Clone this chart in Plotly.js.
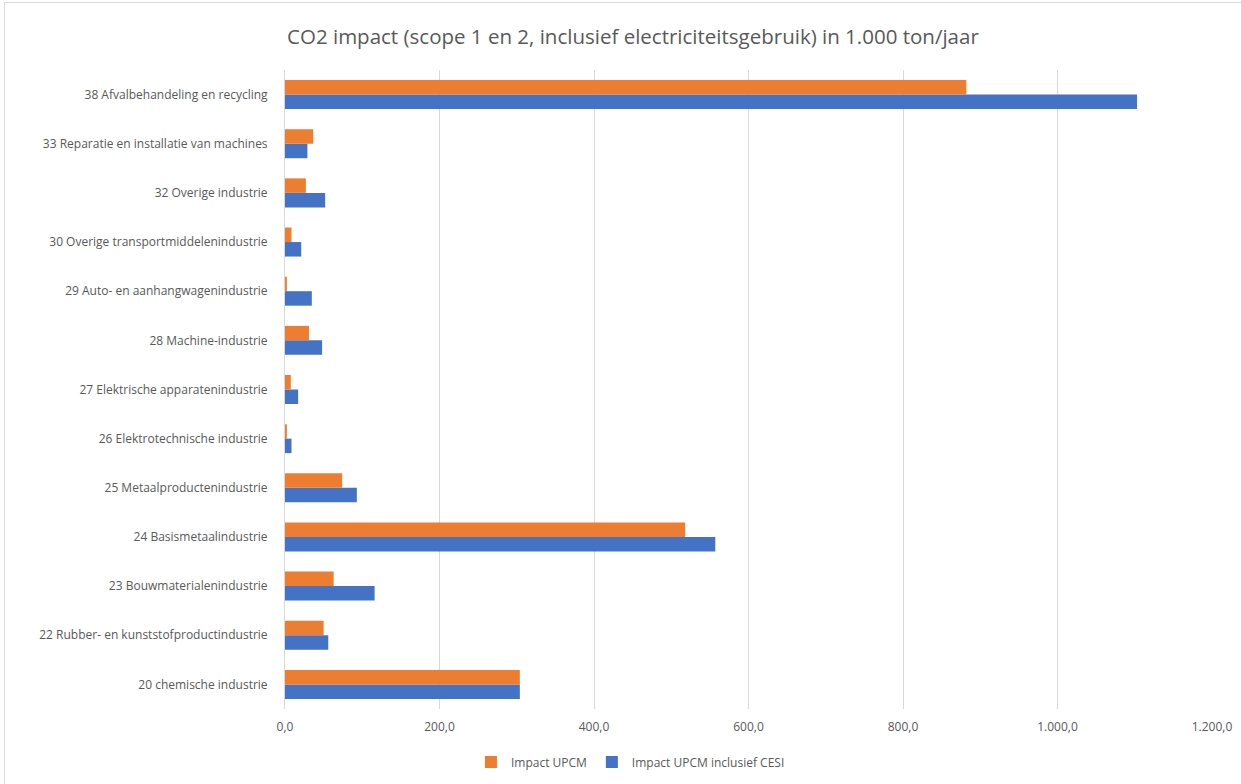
<!DOCTYPE html>
<html>
<head>
<meta charset="utf-8">
<script src="https://cdn.plot.ly/plotly-3.0.1.min.js"></script>
<style>
  html, body { margin: 0; padding: 0; background: #fff; overflow: hidden; }
  #chart { position: absolute; left: 0; top: 0; width: 1241px; height: 784px; }
  #frame { position: absolute; left: 4px; top: 2px; width: 1245px; height: 790px; border: 1px solid #d9d9d9; pointer-events: none; }
</style>
</head>
<body>
<div id="chart"></div>
<div id="frame"></div>
<script>
const categories = [
  "20 chemische industrie",
  "22 Rubber- en kunststofproductindustrie",
  "23 Bouwmaterialenindustrie",
  "24 Basismetaalindustrie",
  "25 Metaalproductenindustrie",
  "26 Elektrotechnische industrie",
  "27 Elektrische apparatenindustrie",
  "28 Machine-industrie",
  "29 Auto- en aanhangwagenindustrie",
  "30 Overige transportmiddelenindustrie",
  "32 Overige industrie",
  "33 Reparatie en installatie van machines",
  "38 Afvalbehandeling en recycling"
];
const impactUPCM = [304, 50, 63, 518, 74, 2.4, 7.5, 31, 2.4, 8.4, 27, 36.5, 882];
const impactUPCMCESI = [304, 56, 116, 557, 93, 8.4, 17, 48, 34.7, 21, 52, 29, 1103];
const seriesNames = ["Impact UPCM", "Impact UPCM inclusief CESI"];
const tickValues = [0, 200, 400, 600, 800, 1000, 1200];

const font = "Open Sans, Noto Sans, sans-serif";

const traces = [
  {
    type: "bar", orientation: "h",
    name: seriesNames[1], y: categories, x: impactUPCMCESI,
    marker: { color: "#4472c4" }, legendrank: 2
  },
  {
    type: "bar", orientation: "h",
    name: seriesNames[0], y: categories, x: impactUPCM,
    marker: { color: "#ed7d31" }, legendrank: 1
  }
];

const layout = {
  width: 1241, height: 784,
  margin: { l: 285, r: 29, t: 70, b: 75 },
  paper_bgcolor: "rgba(0,0,0,0)", plot_bgcolor: "#fff",
  separators: ",.",
  barmode: "group", bargap: 0.41, bargroupgap: 0,
  font: { family: font, color: "#595959", size: 12 },
  title: {
    text: "CO2 impact (scope 1 en 2, inclusief electriciteitsgebruik) in 1.000 ton/jaar",
    font: { family: font, size: 20.5, color: "#595959" },
    xref: "container", x: 0.51, xanchor: "center",
    yref: "container", y: 0.953, yanchor: "middle"
  },
  xaxis: {
    range: [0, 1200], tickvals: tickValues, tickformat: ",.1f",
    showgrid: true, gridcolor: "#d9d9d9", gridwidth: 1,
    zeroline: false, showline: false, ticks: "", ticklabelstandoff: 9,
    tickfont: { size: 12, color: "#595959" }, fixedrange: true
  },
  yaxis: {
    type: "category", showgrid: false, zeroline: false,
    showline: true, linecolor: "#d9d9d9", linewidth: 1,
    ticks: "", ticklabelstandoff: 14,
    tickfont: { size: 12, color: "#595959" }, fixedrange: true
  },
  legend: {
    orientation: "h", xref: "container", yref: "container",
    x: 0.508, xanchor: "center", y: 0.028, yanchor: "middle",
    font: { size: 12, color: "#595959" }, itemwidth: 30
  },
  showlegend: true
};

Plotly.newPlot("chart", traces, layout, { displayModeBar: false, staticPlot: true });
</script>
</body>
</html>
